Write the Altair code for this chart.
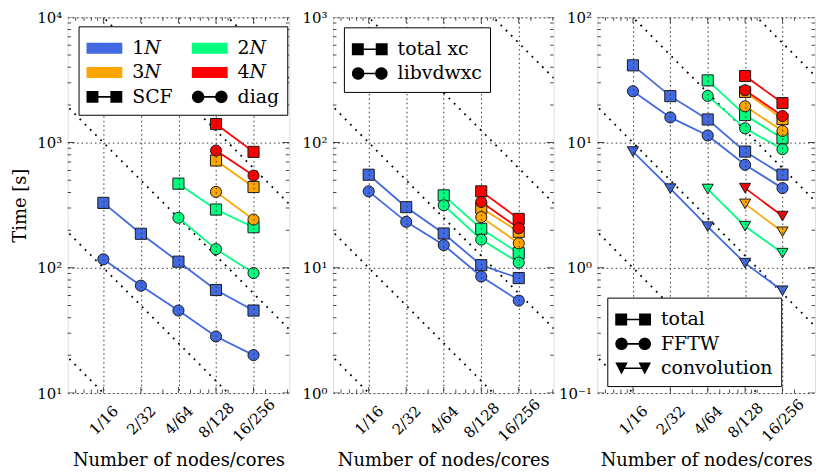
import math
import altair as alt
import pandas as pd

SERIF = "DejaVu Serif"

NODES = [1, 2, 4, 8, 16]
NODE_LABELS = ["1/16", "2/32", "4/64", "8/128", "16/256"]
SIZES = ["1N", "2N", "3N", "4N"]
COLORS = ["#4169e1", "#00ff7f", "#ffa500", "#ff0000"]

# ---- Panel 1: SCF / diag time [s]
P1_SCF_1N = [330, 187, 112, 66.5, 45.6]
P1_DIAG_1N = [117, 72, 45.6, 28.3, 20.1]
P1_SCF_2N = [470, 292, 211]
P1_DIAG_2N = [251, 141, 90.8]
P1_SCF_3N = [720, 442]
P1_DIAG_3N = [404, 243]
P1_SCF_4N = [1406, 843]
P1_DIAG_4N = [864, 545]

# ---- Panel 2: total xc / libvdwxc time [s]
P2_TOT_1N = [55.4, 30.5, 18.8, 10.5, 8.28]
P2_LIB_1N = [40.8, 23.3, 15.2, 8.53, 5.47]
P2_TOT_2N = [37.9, 20.5, 13.1]
P2_LIB_2N = [31.6, 16.8, 11.0]
P2_TOT_3N = [30.1, 19.4]
P2_LIB_3N = [25.4, 15.7]
P2_TOT_4N = [40.8, 24.6]
P2_LIB_4N = [33.6, 20.7]

# ---- Panel 3: total / FFTW / convolution time [s]
P3_TOT_1N = [41.4, 23.5, 15.3, 8.48, 5.55]
P3_FFT_1N = [25.7, 15.9, 11.4, 6.65, 4.33]
P3_CNV_1N = [8.48, 4.29, 2.13, 1.09, 0.656]
P3_TOT_2N = [31.4, 16.6, 10.8]
P3_FFT_2N = [23.6, 13.0, 8.85]
P3_CNV_2N = [4.26, 2.15, 1.31]
P3_TOT_3N = [25.4, 15.4]
P3_FFT_3N = [19.5, 12.4]
P3_CNV_3N = [3.24, 1.94]
P3_TOT_4N = [34.0, 20.7]
P3_FFT_4N = [26.2, 16.3]
P3_CNV_4N = [4.33, 2.59]

# ideal-scaling reference constants (T = C / nodes)
P1_IDEAL = [10, 100, 1000, 1e4, 1e5]
P2_IDEAL = [1, 10, 100, 1000, 1e4]
P3_IDEAL = [0.1, 1, 10, 100, 1000]

P1_DECADES = [10, 100, 1000, 10000]
P2_DECADES = [1, 10, 100, 1000]
P3_DECADES = [0.1, 1, 10, 100]
MINOR_MULT = [2, 3, 4, 5, 6, 7, 8, 9]
X_MINOR = [0.6, 0.7, 0.8, 0.9, 3, 5, 6, 7, 9, 10, 20, 30]

P1_TYPES = ["SCF", "diag"]
P2_TYPES = ["total xc", "libvdwxc"]
P3_TYPES = ["total", "FFTW", "convolution"]

P1_LEGEND = ["1𝑁", "2𝑁", "3𝑁", "4𝑁", "SCF", "diag"]

# ---- legend symbol geometry (in px, converted to Vega's unit box)
LEG_SYM = 28.0          # sqrt(symbolSize)
U = LEG_SYM / 2         # px per path unit
W = 36.0                # drawn symbol width, px


def _p(v):
    return f"{v / U:.3f}"


def _rect(x0, y0, x1, y1):
    return f"M{_p(x0)},{_p(y0)}H{_p(x1)}V{_p(y1)}H{_p(x0)}Z"


def _circle(cx, r, k=20):
    pts = []
    for i in range(k):
        a = 2 * math.pi * i / k
        pts.append(f"{_p(cx + r * math.cos(a))},{_p(r * math.sin(a))}")
    return "M" + "L".join(pts) + "Z"


def _tri(cx, half):
    return (f"M{_p(cx - half)},{_p(-half * 0.9)}L{_p(cx + half)},{_p(-half * 0.9)}"
            f"L{_p(cx)},{_p(half)}Z")


HW = W / 2
PATCH = _rect(-HW, -5.5, HW, 5.5)
SQ_LINE = _rect(-HW, -6, -HW + 12, 6) + _rect(HW - 12, -6, HW, 6) + _rect(-HW + 6, -0.8, HW - 6, 0.8)
CI_LINE = _circle(-HW + 6.3, 6.3) + _circle(HW - 6.3, 6.3) + _rect(-HW + 6, -0.8, HW - 6, 0.8)
TR_LINE = _tri(-HW + 6.3, 6.3) + _tri(HW - 6.3, 6.3) + _rect(-HW + 6, -0.8, HW - 6, 0.8)

H = 378


def series_df(series):
    rows = []
    for size, typ, vals in series:
        for n, v in zip(NODES[-len(vals):], vals):
            rows.append({"n": n, "t": v, "N": size, "type": typ})
    return pd.DataFrame(rows)


def sup(e):
    m = {"-": "⁻", "0": "⁰", "1": "¹", "2": "²", "3": "³", "4": "⁴"}
    return "10" + "".join(m[c] for c in str(e))


def y_label_expr(decades):
    parts = []
    for d in decades:
        parts.append(f"datum.value < {d * 3} ? '{sup(int(round(math.log10(d))))}' : ")
    return "".join(parts) + "''"


X_LABEL_EXPR = "".join(
    f"datum.value == {n} ? '{lab}' : " for n, lab in zip(NODES, NODE_LABELS)
) + "''"


def panel(series, types, shapes, ideal, decades, width, xmax_exp, ytitle,
          legend_df, legend_enc):
    xdom = [2 ** -0.952, 2 ** xmax_exp]
    xenc = alt.X(
        "n:Q",
        scale=alt.Scale(type="log", domain=xdom, nice=False),
        axis=alt.Axis(
            values=NODES, labelExpr=X_LABEL_EXPR, grid=True, ticks=False,
            domain=False, labelAngle=315, labelAlign="center",
            labelBaseline="middle", labelPadding=27, labelFont=SERIF,
            labelFontSize=15, labelColor="black", labelOverlap=False,
            gridColor="#333", gridDash=[1.5, 3], gridWidth=1,
            title="Number of nodes/cores", titleFont=SERIF, titleFontSize=18,
            titleFontWeight="normal", titleColor="black", titlePadding=8,
            zindex=1,
        ),
    )
    yenc = alt.Y(
        "t:Q",
        scale=alt.Scale(type="log", domain=[decades[0], decades[-1]], nice=False),
        axis=alt.Axis(
            values=decades, labelExpr=y_label_expr(decades), grid=True,
            ticks=False, domain=False, labelPadding=6, labelFont=SERIF,
            labelFontSize=15, labelColor="black", labelBaseline="middle",
            gridColor="#333", gridDash=[1.5, 3], gridWidth=1,
            title=ytitle, titleFont=SERIF, titleFontSize=18,
            titleFontWeight="normal", titleColor="black", titlePadding=7,
            zindex=1,
        ),
    )
    data = series_df(series)
    color = alt.Color("N:N", scale=alt.Scale(domain=SIZES, range=COLORS), legend=None)

    ideal_rows = []
    for c in ideal:
        for n in [0.4, 40]:
            ideal_rows.append({"n": n, "t": c / n, "C": c})
    ideal_df = pd.DataFrame(ideal_rows)

    ideal_layer = alt.Chart(ideal_df).mark_line(
        clip=True, color="black", strokeWidth=1.8, strokeDash=[1.8, 5.6]
    ).encode(x=xenc, y=yenc, detail="C:N")

    line_layer = alt.Chart(data).mark_line(strokeWidth=1.8, clip=True).encode(
        x=xenc, y=yenc, color=color, detail="type:N"
    )
    point_layer = alt.Chart(data).mark_point(
        filled=True, size=125, opacity=1, stroke="#1a1a1a", strokeWidth=1
    ).encode(
        x=xenc, y=yenc, color=color,
        shape=alt.Shape("type:N", scale=alt.Scale(domain=types, range=shapes), legend=None),
    )
    legend_layer = alt.Chart(legend_df).mark_point(
        filled=True, clip=True, opacity=1, strokeWidth=0
    ).encode(x=xenc, y=yenc, **legend_enc)

    ytick_rows = []
    for d in decades:
        ytick_rows.append({"t": d, "len": 14})
        if d != decades[-1]:
            for m in MINOR_MULT:
                ytick_rows.append({"t": d * m, "len": 7})
    ytick_df = pd.DataFrame(ytick_rows)
    xtick_df = pd.DataFrame(
        [{"n": n, "len": 12} for n in NODES] + [{"n": n, "len": 7} for n in X_MINOR]
    )
    size_enc = alt.Size("len:Q", scale=None)
    yl = alt.Chart(ytick_df).mark_tick(orient="horizontal", clip=True, thickness=1, color="black").encode(
        y=yenc, x=alt.value(0), size=size_enc)
    yr = alt.Chart(ytick_df).mark_tick(orient="horizontal", clip=True, thickness=1, color="black").encode(
        y=yenc, x=alt.value(width), size=size_enc)
    xb = alt.Chart(xtick_df).mark_tick(orient="vertical", clip=True, thickness=1, color="black").encode(
        x=xenc, y=alt.value(H), size=size_enc)
    xt = alt.Chart(xtick_df).mark_tick(orient="vertical", clip=True, thickness=1, color="black").encode(
        x=xenc, y=alt.value(0), size=size_enc)

    return alt.layer(
        ideal_layer, line_layer, point_layer, yl, yr, xb, xt, legend_layer
    ).resolve_scale(color="independent", shape="independent").properties(
        width=width, height=H
    )


def legend(x, y, columns=1):
    return alt.Legend(
        title=None, orient="none", legendX=x, legendY=y, columns=columns,
        direction="horizontal" if columns > 1 else "vertical",
        columnPadding=18, rowPadding=0.5, symbolSize=LEG_SYM ** 2,
        symbolStrokeWidth=0, symbolOffset=(W - LEG_SYM) / 2,
        labelFont=SERIF, labelFontSize=19, labelColor="black",
        labelOffset=W - LEG_SYM + 6,
        padding=8, strokeColor="black", fillColor="white",
        cornerRadius=0, zindex=2, symbolOpacity=1,
    )


# panel 1
p1_series = [
    ("1N", "SCF", P1_SCF_1N), ("1N", "diag", P1_DIAG_1N),
    ("2N", "SCF", P1_SCF_2N), ("2N", "diag", P1_DIAG_2N),
    ("3N", "SCF", P1_SCF_3N), ("3N", "diag", P1_DIAG_3N),
    ("4N", "SCF", P1_SCF_4N), ("4N", "diag", P1_DIAG_4N),
]
leg1 = legend(11, 9, columns=2)
p1_leg_df = pd.DataFrame({"leg": P1_LEGEND, "n": 1, "t": 1e-6})
p1 = panel(
    p1_series, P1_TYPES, ["square", "circle"], P1_IDEAL, P1_DECADES, 223, 4.952,
    "Time [s]", p1_leg_df,
    dict(
        color=alt.Color("leg:N", scale=alt.Scale(domain=P1_LEGEND, range=COLORS + ["black", "black"]), legend=leg1),
        shape=alt.Shape("leg:N", scale=alt.Scale(domain=P1_LEGEND, range=[PATCH] * 4 + [SQ_LINE, CI_LINE]), legend=leg1),
    ),
)

# panel 2
p2_series = [
    ("1N", "total xc", P2_TOT_1N), ("1N", "libvdwxc", P2_LIB_1N),
    ("2N", "total xc", P2_TOT_2N), ("2N", "libvdwxc", P2_LIB_2N),
    ("3N", "total xc", P2_TOT_3N), ("3N", "libvdwxc", P2_LIB_3N),
    ("4N", "total xc", P2_TOT_4N), ("4N", "libvdwxc", P2_LIB_4N),
]
p2_leg_df = pd.DataFrame({"leg": P2_TYPES, "n": 1, "t": 1e-6})
leg2 = legend(11, 10)
p2 = panel(
    p2_series, P2_TYPES, ["square", "circle"], P2_IDEAL, P2_DECADES, 222, 4.93,
    None, p2_leg_df,
    dict(
        color=alt.value("black"),
        shape=alt.Shape("leg:N", scale=alt.Scale(domain=P2_TYPES, range=[SQ_LINE, CI_LINE]), legend=leg2),
    ),
)

# panel 3
p3_series = [
    ("1N", "total", P3_TOT_1N), ("1N", "FFTW", P3_FFT_1N), ("1N", "convolution", P3_CNV_1N),
    ("2N", "total", P3_TOT_2N), ("2N", "FFTW", P3_FFT_2N), ("2N", "convolution", P3_CNV_2N),
    ("3N", "total", P3_TOT_3N), ("3N", "FFTW", P3_FFT_3N), ("3N", "convolution", P3_CNV_3N),
    ("4N", "total", P3_TOT_4N), ("4N", "FFTW", P3_FFT_4N), ("4N", "convolution", P3_CNV_4N),
]
p3_leg_df = pd.DataFrame({"leg": P3_TYPES, "n": 1, "t": 1e-6})
leg3 = legend(10, 282)
p3 = panel(
    p3_series, P3_TYPES, ["square", "circle", "triangle-down"], P3_IDEAL, P3_DECADES, 219, 4.87,
    None, p3_leg_df,
    dict(
        color=alt.value("black"),
        shape=alt.Shape("leg:N", scale=alt.Scale(domain=P3_TYPES, range=[SQ_LINE, CI_LINE, TR_LINE]), legend=leg3),
    ),
)

chart = alt.hconcat(p1, p2, p3, spacing=44, bounds="flush").properties(
    padding={"left": 3, "top": 0, "right": 0, "bottom": 0}
).configure_view(
    stroke="black", strokeWidth=1.8
).configure_legend(strokeWidth=1.5).configure(background="white")

chart.save("out.html", embed_options={"renderer": "svg", "actions": False})
